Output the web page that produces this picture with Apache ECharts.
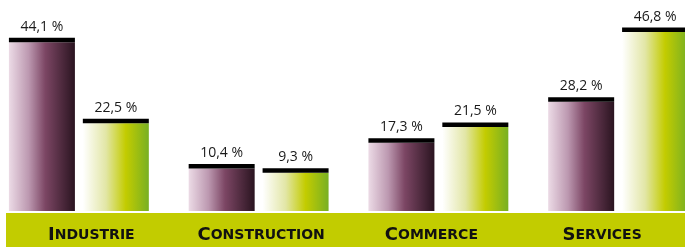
<!DOCTYPE html>
<html>
<head>
<meta charset="utf-8">
<script src="https://cdn.jsdelivr.net/npm/echarts@6/dist/echarts.min.js"></script>
<style>
  html, body {margin: 0; padding: 0; background: #fff; overflow: hidden;}
  #chart {width: 719px; height: 247px; margin-left: -11px;}
</style>
</head>
<body>
<div id="chart"></div>
<script>
// données
const categories = ['Industrie', 'Construction', 'Commerce', 'Services'];
const valuesA = [44.1, 10.4, 17.3, 28.2];
const valuesB = [22.5, 9.3, 21.5, 46.8];

const CAP = 1.2;      // épaisseur du trait noir, en unités
const BASE = -8 / 3.75; // pied des barres sous le zéro

const purple = new echarts.graphic.LinearGradient(0, 0, 1, 0, [
  {offset: 0, color: '#ecdbe6'},
  {offset: 0.3, color: '#bc98b0'},
  {offset: 0.55, color: '#7c4664'},
  {offset: 1, color: '#2a1420'}
]);
const green = new echarts.graphic.LinearGradient(0, 0, 1, 0, [
  {offset: 0, color: '#ffffff'},
  {offset: 0.35, color: '#e2e6a6'},
  {offset: 0.65, color: '#c3cc00'},
  {offset: 1, color: '#78b023'}
]);

const fmt = (v) => v.toFixed(1).replace('.', ',') + ' %';

// décalage des libellés sous l'axe
const labelPad = [[0, 0, 0, 25], [0, 0, 0, 5], [0, 14, 0, 0], [0, 32, 0, 0]];

function stack (name, values, color) {
  return [
    {
      type: 'bar', stack: name, barWidth: 66, barGap: '12%',
      itemStyle: {color},
      data: values.map(() => BASE)
    },
    {
      type: 'bar', stack: name, barWidth: 66, barGap: '12%',
      itemStyle: {color},
      data: values.map((v) => v - CAP)
    },
    {
      type: 'bar', stack: name, barWidth: 66, barGap: '12%',
      itemStyle: {color: '#000'},
      label: {
        show: true,
        position: 'top',
        distance: 4,
        color: '#1a1a1a',
        fontSize: 14,
        fontFamily: 'Open Sans',
        formatter: (p) => fmt(values[p.dataIndex])
      },
      data: values.map(() => CAP)
    }
  ];
}

var myChart = echarts.init(document.getElementById('chart'));
const option = {
  animation: false,
  graphic: [
    {type: 'rect', z: -1, left: 17, top: 213, shape: {width: 702, height: 34}, style: {fill: '#c2cc00'}}
  ],
  grid: {left: 0, right: 0, top: 0, bottom: 36},
  xAxis: {
    type: 'category',
    data: categories.map((c, i) => ({value: c, textStyle: {padding: labelPad[i]}})),
    axisLine: {show: false},
    axisTick: {show: false},
    axisLabel: {
      margin: 13,
      interval: 0,
      formatter: (v) => `{a|${v[0].toUpperCase()}}{b|${v.slice(1).toUpperCase()}}`,
      rich: {
        a: {fontFamily: 'DejaVu Sans', fontWeight: 'bold', fontSize: 18, color: '#111', lineHeight: 22},
        b: {fontFamily: 'DejaVu Sans', fontWeight: 'bold', fontSize: 14, color: '#111', lineHeight: 22}
      }
    }
  },
  yAxis: {
    type: 'value',
    min: BASE,
    max: 54.14,
    show: false,
    splitLine: {show: false}
  },
  series: [...stack('a', valuesA, purple), ...stack('b', valuesB, green)]
};
option && myChart.setOption(option);
</script>
</body>
</html>
